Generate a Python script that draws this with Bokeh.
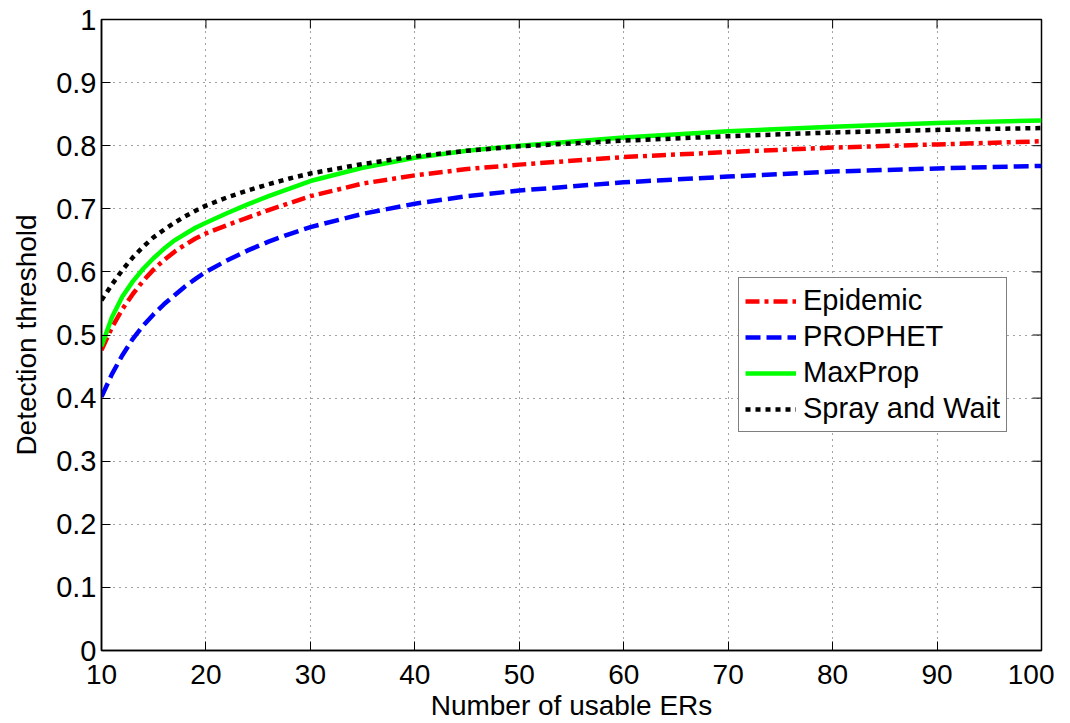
from bokeh.plotting import figure
from bokeh.models import Range1d, Legend, LegendItem, FixedTicker
from bokeh.embed import file_html
from bokeh.resources import INLINE

x_vals = [10, 11, 12, 13, 14, 15, 16, 17, 18, 19, 20, 22, 24, 26, 28, 30, 35, 40, 45, 50, 60, 70, 80, 90, 100]
epidemic = [0.476, 0.512, 0.541, 0.565, 0.586, 0.604, 0.619, 0.632, 0.643, 0.653, 0.661, 0.674, 0.686, 0.698,
            0.709, 0.720, 0.740, 0.753, 0.763, 0.770, 0.782, 0.790, 0.797, 0.802, 0.807]
prophet = [0.402, 0.438, 0.468, 0.494, 0.515, 0.533, 0.549, 0.563, 0.577, 0.589, 0.600, 0.618, 0.634, 0.648,
           0.660, 0.671, 0.692, 0.708, 0.720, 0.729, 0.742, 0.751, 0.759, 0.764, 0.768]
maxprop = [0.482, 0.528, 0.561, 0.585, 0.605, 0.622, 0.637, 0.650, 0.660, 0.670, 0.678, 0.693, 0.707, 0.720,
           0.732, 0.744, 0.765, 0.781, 0.792, 0.800, 0.813, 0.823, 0.830, 0.836, 0.840]
spray = [0.555, 0.580, 0.603, 0.623, 0.640, 0.655, 0.667, 0.678, 0.688, 0.697, 0.705, 0.718, 0.729, 0.739,
         0.748, 0.756, 0.771, 0.783, 0.792, 0.799, 0.808, 0.815, 0.821, 0.825, 0.828]

x_ticks = [10, 20, 30, 40, 50, 60, 70, 80, 90, 100]
y_ticks = [0, 0.1, 0.2, 0.3, 0.4, 0.5, 0.6, 0.7, 0.8, 0.9, 1]
y_labels = {0: "0", 0.1: "0.1", 0.2: "0.2", 0.3: "0.3", 0.4: "0.4", 0.5: "0.5",
            0.6: "0.6", 0.7: "0.7", 0.8: "0.8", 0.9: "0.9", 1: "1"}

FONT = "Liberation Sans"
X0, X1, Y0, Y1 = 10, 100, 0, 1

p = figure(width=1054, height=723, output_backend="svg", toolbar_location=None,
           x_range=Range1d(X0, X1), y_range=Range1d(Y0, Y1),
           x_axis_label="Number of usable ERs", y_axis_label="Detection threshold")
p.min_border_left = 101
p.min_border_right = 13
p.min_border_top = 19
p.min_border_bottom = 69
p.background_fill_color = "white"
p.border_fill_color = "white"
p.outline_line_color = "black"
p.outline_line_width = 1.5

for ax in [p.xaxis[0], p.yaxis[0]]:
    ax.major_label_text_font = FONT
    ax.major_label_text_font_size = "28px"
    ax.major_label_text_color = "black"
    ax.axis_label_text_font = FONT
    ax.axis_label_text_font_size = "28px"
    ax.axis_label_text_font_style = "normal"
    ax.axis_label_text_color = "black"
    ax.axis_line_color = "black"
    ax.axis_line_width = 1.5
    ax.major_tick_in = 9
    ax.major_tick_out = 0
    ax.major_tick_line_width = 1
    ax.minor_tick_line_color = None
    ax.major_tick_line_color = "black"

p.yaxis[0].major_label_text_font_size = "29px"
p.xaxis[0].ticker = FixedTicker(ticks=x_ticks)
p.yaxis[0].ticker = FixedTicker(ticks=y_ticks)
p.yaxis[0].major_label_overrides = y_labels
p.xaxis[0].major_label_standoff = 14
p.xaxis[0].axis_label_standoff = 3
p.yaxis[0].major_label_standoff = 5
p.yaxis[0].axis_label_standoff = 11

p.xgrid.ticker = FixedTicker(ticks=x_ticks)
p.ygrid.ticker = FixedTicker(ticks=y_ticks)
p.grid.grid_line_color = "#444444"
p.grid.grid_line_dash = "1 5"
p.grid.grid_line_width = 1

# mirrored tick marks on the top and right edges (MATLAB box style)
tick_dy = 9 / 634 * (Y1 - Y0)
tick_dx = 9 / 940 * (X1 - X0)
p.segment(x0=x_ticks, y0=[Y1] * len(x_ticks), x1=x_ticks, y1=[Y1 - tick_dy] * len(x_ticks),
          line_color="black", line_width=1)
p.segment(x0=[X1] * len(y_ticks), y0=y_ticks, x1=[X1 - tick_dx] * len(y_ticks), y1=y_ticks,
          line_color="black", line_width=1)

r1 = p.line(x_vals, epidemic, line_color="#ff0000", line_width=4.5, line_dash="14 5 4 5")
r2 = p.line(x_vals, prophet, line_color="#0000ff", line_width=4.5, line_dash="15 6")
r3 = p.line(x_vals, maxprop, line_color="#00ff00", line_width=4.5)
r4 = p.line(x_vals, spray, line_color="#000000", line_width=4.5, line_dash="5 5")

legend = Legend(items=[LegendItem(label="Epidemic", renderers=[r1]),
                       LegendItem(label="PROPHET", renderers=[r2]),
                       LegendItem(label="MaxProp", renderers=[r3]),
                       LegendItem(label="Spray and Wait", renderers=[r4])],
                location=(637, 218))
legend.label_text_font = FONT
legend.label_text_font_size = "29px"
legend.label_text_color = "black"
legend.glyph_width = 51
legend.glyph_height = 30
legend.label_height = 30
legend.spacing = 3
legend.padding = 6
legend.margin = 0
legend.label_standoff = 7
legend.border_line_color = "black"
legend.border_line_width = 1.5
legend.background_fill_color = "white"
legend.background_fill_alpha = 1
p.add_layout(legend, "center")

open("out.html", "w").write(file_html(p, INLINE))
